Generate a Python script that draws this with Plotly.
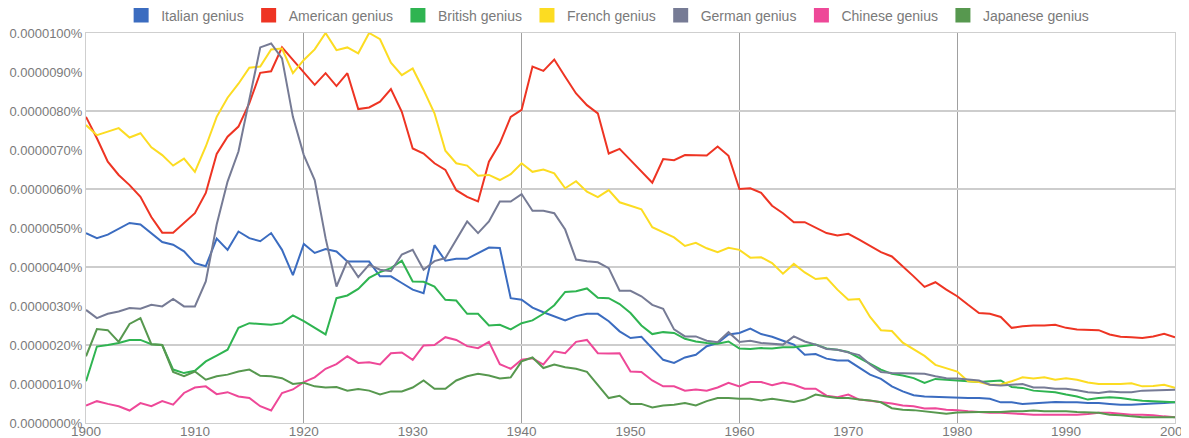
import numpy as np
import plotly.graph_objects as go

years = list(range(1900, 2001))

# values in units of 0.0000001 % -> multiplied by 1e-6 to get percent
italian = [4.87, 4.74, 4.83, 4.98, 5.13, 5.09, 4.87, 4.64, 4.57, 4.40, 4.10, 4.02, 4.73, 4.44, 4.91, 4.74, 4.66, 4.87, 4.44, 3.79,
           4.59, 4.36, 4.46, 4.40, 4.14, 4.14, 4.14, 3.76, 3.76, 3.59, 3.42, 3.33, 4.56, 4.16, 4.21, 4.21, 4.36, 4.50, 4.49, 3.20,
           3.16, 2.96, 2.84, 2.74, 2.63, 2.74, 2.80, 2.80, 2.61, 2.35, 2.18, 2.21, 1.92, 1.62, 1.54, 1.68, 1.75, 1.97, 2.05, 2.27,
           2.31, 2.42, 2.28, 2.21, 2.11, 2.01, 1.75, 1.77, 1.65, 1.60, 1.60, 1.43, 1.24, 1.13, 0.94, 0.81, 0.71, 0.68, 0.67, 0.66,
           0.64, 0.64, 0.64, 0.62, 0.53, 0.53, 0.49, 0.51, 0.53, 0.54, 0.53, 0.53, 0.51, 0.51, 0.49, 0.47, 0.47, 0.49, 0.50, 0.51, 0.53]
american = [7.85, 7.30, 6.70, 6.36, 6.10, 5.80, 5.28, 4.88, 4.88, 5.12, 5.38, 5.90, 6.90, 7.34, 7.60, 8.20, 8.98, 9.02, 9.63, 9.31,
            9.00, 8.67, 8.97, 8.64, 8.97, 8.05, 8.09, 8.24, 8.56, 7.98, 7.04, 6.91, 6.66, 6.49, 5.97, 5.80, 5.68, 6.70, 7.17, 7.85,
            8.03, 9.14, 9.03, 9.32, 8.88, 8.45, 8.15, 7.94, 6.91, 7.03, 6.74, 6.44, 6.16, 6.77, 6.74, 6.87, 6.86, 6.86, 7.09, 6.85,
            6.00, 6.02, 5.90, 5.57, 5.38, 5.15, 5.15, 5.00, 4.87, 4.81, 4.85, 4.70, 4.53, 4.38, 4.27, 4.02, 3.76, 3.49, 3.61, 3.42,
            3.25, 3.03, 2.82, 2.80, 2.72, 2.44, 2.48, 2.50, 2.50, 2.52, 2.44, 2.40, 2.39, 2.38, 2.27, 2.21, 2.20, 2.18, 2.22, 2.29, 2.20]
british = [1.07, 1.96, 2.00, 2.05, 2.13, 2.13, 2.02, 2.00, 1.37, 1.28, 1.34, 1.58, 1.73, 1.88, 2.44, 2.56, 2.54, 2.52, 2.56, 2.76,
           2.61, 2.44, 2.27, 3.20, 3.27, 3.44, 3.72, 3.87, 3.97, 4.16, 3.63, 3.62, 3.50, 3.16, 3.14, 2.80, 2.80, 2.50, 2.52, 2.40,
           2.56, 2.63, 2.80, 3.02, 3.36, 3.38, 3.45, 3.21, 3.20, 3.05, 2.82, 2.50, 2.28, 2.33, 2.31, 2.16, 2.09, 2.05, 2.03, 2.09,
           1.91, 1.90, 1.92, 1.91, 1.94, 1.94, 1.97, 2.01, 1.91, 1.88, 1.82, 1.67, 1.50, 1.37, 1.26, 1.22, 1.15, 1.03, 1.13, 1.11,
           1.09, 1.07, 1.05, 1.07, 1.09, 0.92, 0.90, 0.83, 0.81, 0.79, 0.73, 0.68, 0.60, 0.64, 0.66, 0.64, 0.60, 0.57, 0.56, 0.55, 0.53]
french = [7.64, 7.38, 7.47, 7.56, 7.32, 7.43, 7.07, 6.87, 6.60, 6.78, 6.44, 7.09, 7.85, 8.34, 8.70, 9.11, 9.14, 9.58, 9.60, 8.97,
          9.31, 9.58, 10.0, 9.56, 9.63, 9.48, 10.0, 9.84, 9.24, 8.92, 9.09, 8.54, 7.94, 6.98, 6.66, 6.60, 6.34, 6.36, 6.23, 6.38,
          6.66, 6.44, 6.50, 6.40, 6.02, 6.20, 5.93, 5.79, 5.97, 5.66, 5.57, 5.48, 5.02, 4.88, 4.76, 4.54, 4.62, 4.48, 4.38, 4.49,
          4.44, 4.24, 4.25, 4.10, 3.83, 4.08, 3.86, 3.69, 3.72, 3.42, 3.16, 3.18, 2.72, 2.38, 2.36, 2.06, 1.90, 1.72, 1.49, 1.41,
          1.32, 1.07, 1.05, 0.98, 0.99, 1.07, 1.17, 1.14, 1.17, 1.11, 1.15, 1.11, 1.04, 1.00, 1.00, 1.00, 1.02, 0.94, 0.95, 0.98, 0.90]
german = [2.90, 2.69, 2.80, 2.86, 2.95, 2.93, 3.03, 2.99, 3.18, 2.99, 2.99, 3.63, 5.09, 6.19, 6.96, 8.28, 9.63, 9.73, 9.35, 7.85,
          6.87, 6.23, 4.74, 3.50, 4.16, 3.74, 4.06, 3.93, 3.89, 4.32, 4.44, 3.93, 4.15, 4.23, 4.70, 5.17, 4.87, 5.17, 5.68, 5.68,
          5.87, 5.44, 5.44, 5.38, 4.96, 4.19, 4.15, 4.12, 3.97, 3.39, 3.39, 3.25, 3.03, 2.93, 2.40, 2.22, 2.22, 2.11, 2.07, 2.33,
          2.08, 2.11, 2.05, 2.03, 2.01, 2.22, 2.09, 2.01, 1.90, 1.88, 1.81, 1.74, 1.50, 1.31, 1.28, 1.27, 1.26, 1.26, 1.20, 1.15,
          1.14, 1.11, 1.09, 0.98, 0.96, 0.98, 1.00, 0.91, 0.91, 0.88, 0.88, 0.84, 0.79, 0.77, 0.81, 0.79, 0.79, 0.83, 0.84, 0.84, 0.85]
chinese = [0.45, 0.56, 0.49, 0.43, 0.32, 0.51, 0.43, 0.56, 0.47, 0.77, 0.91, 0.94, 0.74, 0.79, 0.68, 0.64, 0.43, 0.32, 0.77, 0.86,
           1.05, 1.17, 1.39, 1.51, 1.71, 1.54, 1.56, 1.50, 1.79, 1.81, 1.62, 1.99, 2.00, 2.20, 2.13, 1.97, 1.92, 2.08, 1.51, 1.39,
           1.62, 1.66, 1.50, 1.84, 1.79, 2.08, 2.13, 1.79, 1.78, 1.79, 1.32, 1.31, 1.09, 0.94, 0.94, 0.83, 0.86, 0.83, 0.91, 1.03,
           0.94, 1.05, 1.05, 0.97, 1.04, 0.98, 0.88, 0.88, 0.70, 0.66, 0.73, 0.60, 0.57, 0.54, 0.50, 0.45, 0.43, 0.37, 0.38, 0.34,
           0.33, 0.30, 0.28, 0.26, 0.26, 0.25, 0.23, 0.21, 0.21, 0.21, 0.20, 0.21, 0.23, 0.26, 0.26, 0.24, 0.21, 0.21, 0.20, 0.17, 0.15]
japanese = [1.71, 2.41, 2.38, 2.08, 2.54, 2.69, 2.02, 2.00, 1.31, 1.20, 1.32, 1.11, 1.20, 1.24, 1.32, 1.37, 1.21, 1.20, 1.15, 1.00,
            1.03, 0.94, 0.91, 0.92, 0.83, 0.87, 0.83, 0.73, 0.81, 0.81, 0.91, 1.09, 0.88, 0.88, 1.09, 1.20, 1.26, 1.22, 1.14, 1.17,
            1.58, 1.68, 1.41, 1.50, 1.43, 1.39, 1.31, 0.98, 0.64, 0.70, 0.49, 0.49, 0.40, 0.45, 0.47, 0.51, 0.45, 0.56, 0.64, 0.64,
            0.62, 0.62, 0.58, 0.62, 0.58, 0.54, 0.60, 0.73, 0.68, 0.64, 0.64, 0.60, 0.58, 0.53, 0.38, 0.34, 0.33, 0.30, 0.27, 0.24,
            0.27, 0.28, 0.28, 0.28, 0.28, 0.30, 0.30, 0.32, 0.30, 0.30, 0.30, 0.28, 0.27, 0.26, 0.21, 0.20, 0.17, 0.15, 0.15, 0.15, 0.15]

names = ["Italian genius", "American genius", "British genius", "French genius",
         "German genius", "Chinese genius", "Japanese genius"]
series = [italian, american, british, french, german, chinese, japanese]
colors = ["#3b6cc0", "#ee3423", "#2fb451", "#fcdc22", "#767b95", "#ee4898", "#57984f"]

SCALE = 1e-6  # series unit -> percent
y_max = 10
FONT = "Liberation Sans, Arial, Helvetica, sans-serif"
TXT = "#7a7a7a"

fig = go.Figure()

# legend swatches (square markers, no data) on the grid axes so those axes render
for name, col in zip(names, colors):
    fig.add_trace(go.Scatter(
        x=[None], y=[None], mode="markers", name=name, xaxis="x2", yaxis="y2",
        marker=dict(symbol="square", size=15, color=col), showlegend=True))

for name, vals, col in zip(names, series, colors):
    assert len(vals) == len(years), name
    fig.add_trace(go.Scatter(
        x=years, y=np.array(vals) * SCALE, mode="lines", name=name,
        line=dict(color=col, width=2), showlegend=False))

# the page body has an 8px default margin, so the figure is offset by 8px;
# the figure is a bit wider than the window so the "2000" label gets cut like the reference
fig.update_layout(
    width=1197, height=438,
    margin=dict(l=78, r=30, t=25, b=23, autoexpand=False),
    paper_bgcolor="white", plot_bgcolor="white",
    font=dict(family=FONT, size=13, color=TXT),
    legend=dict(orientation="h", x=0.479, xanchor="center", y=1.045, yanchor="middle",
                font=dict(size=14, color=TXT), bgcolor="rgba(0,0,0,0)",
                itemclick=False, traceorder="normal"),
    xaxis=dict(range=[1900, 2000], tickmode="array",
               tickvals=list(range(1900, 2001, 10)),
               ticktext=[str(v) for v in range(1900, 2001, 10)],
               showgrid=False, zeroline=False, ticks="", automargin=False,
               ticklabeloverflow="allow", ticklabelstandoff=-4,
               showline=True, linecolor="#9a9a9a", linewidth=1,
               tickfont=dict(size=13.5, color=TXT)),
    yaxis=dict(range=[0, y_max * SCALE], tickmode="linear", tick0=0, dtick=SCALE,
               tickformat=".7f", ticksuffix="%",
               showgrid=False, zeroline=False, ticks="", automargin=False,
               ticklabeloverflow="allow",
               showline=True, linecolor="#9a9a9a", linewidth=1,
               ticklabelstandoff=0,
               tickfont=dict(size=13, color=TXT)),
    xaxis2=dict(overlaying="x", range=[1900, 2000], tickmode="linear", tick0=1900, dtick=20,
                showticklabels=False, showgrid=True, gridcolor="#a0a0a0", gridwidth=1,
                zeroline=False, showline=True, mirror=True, linecolor="#cfcfcf", linewidth=1,
                side="bottom", automargin=False),
    yaxis2=dict(overlaying="y", range=[0, y_max * SCALE], tickmode="linear", tick0=0, dtick=2 * SCALE,
                showticklabels=False, showgrid=True, gridcolor="#cdcdcd", gridwidth=2,
                zeroline=False, showline=True, mirror=True, linecolor="#cfcfcf", linewidth=1,
                side="left", automargin=False),
)

fig.write_html("out.html")
